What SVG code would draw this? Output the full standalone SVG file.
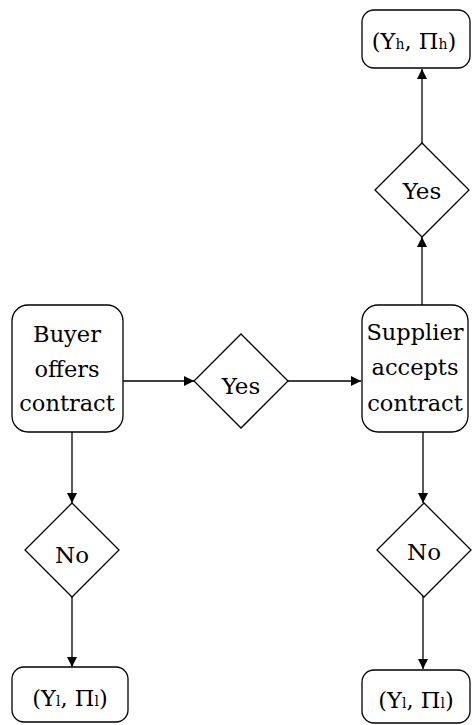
<svg xmlns="http://www.w3.org/2000/svg" width="472" height="725" viewBox="0 0 472 725">
<defs>
<style>
.box{fill:#fff;stroke:#000;stroke-width:1.3}
.dia{fill:#fff;stroke:#000;stroke-width:1.3}
.t{font-family:'DejaVu Serif','Liberation Serif',serif;font-size:22.5px;fill:#000;text-anchor:middle}
.d{font-family:'DejaVu Serif','Liberation Serif',serif;font-size:23px;fill:#000;text-anchor:middle}
.s{font-size:14px}
.c{fill:none;stroke:#000;stroke-width:1.3}
</style>
<marker id="ah" viewBox="0 0 10 10" refX="10" refY="5" markerWidth="10" markerHeight="10" markerUnits="userSpaceOnUse" orient="auto">
<path d="M0,0 L10,5 L0,10 z" fill="#000"/>
</marker>
</defs>
<g id="connectors">
<path class="c" d="M123,381 H194" marker-end="url(#ah)"/>
<path class="c" d="M288,381 H361" marker-end="url(#ah)"/>
<path class="c" d="M422,305 V237" marker-end="url(#ah)"/>
<path class="c" d="M422,143 V69" marker-end="url(#ah)"/>
<path class="c" d="M72,432 V503" marker-end="url(#ah)"/>
<path class="c" d="M72,596 V667" marker-end="url(#ah)"/>
<path class="c" d="M423,432 V503" marker-end="url(#ah)"/>
<path class="c" d="M423,596 V669" marker-end="url(#ah)"/>
</g>
<g id="buyer">
<rect class="box" x="12" y="305" width="111" height="127" rx="16"/>
<text class="t" x="67" y="342">Buyer</text>
<text class="t" x="67" y="377">offers</text>
<text class="t" x="67" y="411">contract</text>
</g>
<g id="yes-mid">
<polygon class="dia" points="241,334 288,381 241,428 194,381"/>
<text class="d" x="241" y="394">Yes</text>
</g>
<g id="supplier">
<rect class="box" x="362" y="305" width="106" height="127" rx="16"/>
<text class="t" x="415" y="340">Supplier</text>
<text class="t" x="415" y="375">accepts</text>
<text class="t" x="415" y="411">contract</text>
</g>
<g id="yes-top">
<polygon class="dia" points="422,143 469,190 422,237 375,190"/>
<text class="d" x="422" y="199">Yes</text>
</g>
<g id="high">
<rect class="box" x="362" y="10" width="108" height="58" rx="12"/>
<text class="t" x="414" y="49">(Y<tspan class="s">h</tspan>, Π<tspan class="s">h</tspan>)</text>
</g>
<g id="no-left">
<polygon class="dia" points="72,503 119,550 72,597 25,550"/>
<text class="d" x="72" y="563">No</text>
</g>
<g id="no-right">
<polygon class="dia" points="424,503 471,550 424,597 377,550"/>
<text class="d" x="424" y="560">No</text>
</g>
<g id="low-left">
<rect class="box" x="12" y="667" width="116" height="55" rx="12"/>
<text class="t" x="70" y="706">(Y<tspan class="s">l</tspan>, Π<tspan class="s">l</tspan>)</text>
</g>
<g id="low-right">
<rect class="box" x="362" y="670" width="108" height="53" rx="12"/>
<text class="t" x="416" y="708">(Y<tspan class="s">l</tspan>, Π<tspan class="s">l</tspan>)</text>
</g>
</svg>
